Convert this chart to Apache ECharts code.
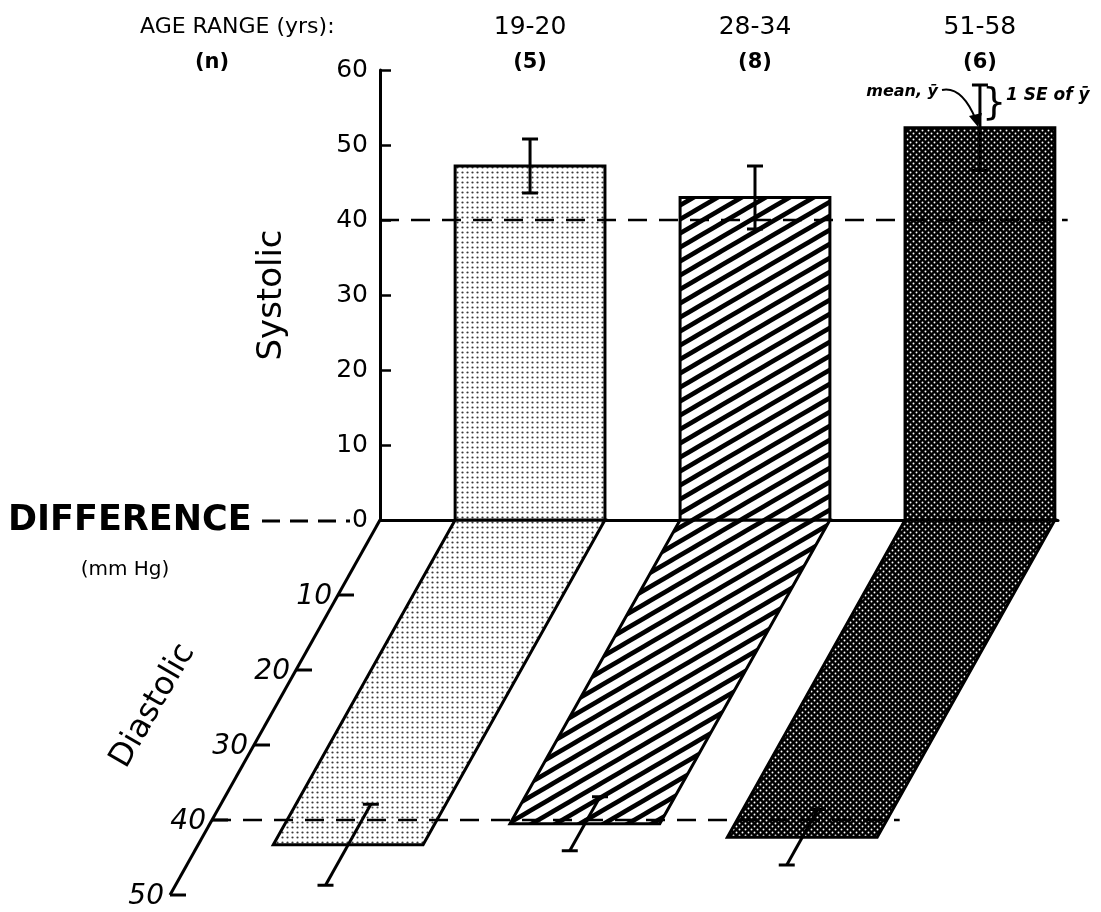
<!DOCTYPE html>
<html>
<head>
<meta charset="utf-8">
<title>Blood pressure difference by age range</title>
<script src="https://cdn.jsdelivr.net/npm/echarts@6/dist/echarts.min.js"></script>
<style>
  html, body { margin: 0; padding: 0; background: #fff; }
  #chart { width: 1101px; height: 912px; }
</style>
</head>
<body>
<div id="chart"></div>
<script>
// age groups and number of subjects
const ageRanges = ['19-20', '28-34', '51-58'];
const groupN = [5, 8, 6];

// systolic difference (mm Hg): mean and 1 SE
const systolicMean = [47.2, 43.0, 52.3];
const systolicSE = [3.6, 4.2, 5.7];

// diastolic difference (mm Hg): mean and 1 SE
const diastolicMean = [43.3, 40.5, 42.3];
const diastolicSE = [5.4, 3.6, 3.7];

const diastolicTicks = [0, 10, 20, 30, 40, 50];
const referenceLevel = [40];

const FONT = '"DejaVu Sans", "Liberation Sans", sans-serif';
const X_MIN = -0.667;
const X_MAX = 2.347;
const REF_END = 2.39;     // where the dashed 40 lines stop
const HALF = 0.333;       // half bar width in category units
const SLANT = 0.56;       // horizontal shift per px of depth for the diastolic plane
const CAP = 8;

// fill patterns
function makeTile(w, h, draw) {
  const c = document.createElement('canvas');
  c.width = w; c.height = h;
  draw(c.getContext('2d'), w, h);
  return { image: c, repeat: 'repeat' };
}
const lightDots = makeTile(5, 5, (ctx, w, h) => {
  ctx.fillStyle = '#fff'; ctx.fillRect(0, 0, w, h);
  ctx.fillStyle = '#3a3a3a';
  ctx.beginPath(); ctx.arc(2.5, 2.5, 1.1, 0, Math.PI * 2); ctx.fill();
});
const hatch = makeTile(24, 14, (ctx, w, h) => {
  ctx.fillStyle = '#fff'; ctx.fillRect(0, 0, w, h);
  ctx.strokeStyle = '#000'; ctx.lineWidth = 4.6;
  for (let k = -1; k <= 1; k++) {
    ctx.beginPath();
    ctx.moveTo(-2, h + k * h + 2 * h / w);
    ctx.lineTo(w + 2, k * h - 2 * h / w);
    ctx.stroke();
  }
});
const darkDots = makeTile(6, 6, (ctx, w, h) => {
  ctx.fillStyle = '#000'; ctx.fillRect(0, 0, w, h);
  ctx.fillStyle = '#fff';
  ctx.beginPath(); ctx.arc(1.5, 1.5, 0.95, 0, Math.PI * 2); ctx.fill();
  ctx.beginPath(); ctx.arc(4.5, 4.5, 0.95, 0, Math.PI * 2); ctx.fill();
});
const fills = [lightDots, hatch, darkDots];

// diastolic plane is drawn sheared to the lower left
function shear(api, x, y) {
  const p = api.coord([x, y]);
  const zero = api.coord([x, 0]);
  return [p[0] - (p[1] - zero[1]) * SLANT, p[1]];
}

function capLine(x, y) {
  return { type: 'line', shape: { x1: x - CAP, y1: y, x2: x + CAP, y2: y },
    style: { stroke: '#000', lineWidth: 3 } };
}

function renderSystolicBar(params, api) {
  const i = api.value(0);
  const p0 = api.coord([i - HALF, 0]);
  const p1 = api.coord([i + HALF, api.value(1)]);
  return {
    type: 'rect',
    shape: { x: p0[0], y: p1[1], width: p1[0] - p0[0], height: p0[1] - p1[1] },
    style: { fill: fills[params.dataIndex], stroke: '#000', lineWidth: 3 }
  };
}

function renderDiastolicBar(params, api) {
  const i = api.value(0);
  const m = api.value(1);
  const pts = [
    shear(api, i - HALF, 0), shear(api, i + HALF, 0),
    shear(api, i + HALF, m), shear(api, i - HALF, m)
  ];
  return {
    type: 'polygon',
    shape: { points: pts },
    style: { fill: fills[params.dataIndex], stroke: '#000', lineWidth: 3 }
  };
}

function renderSystolicError(params, api) {
  const i = api.value(0), m = api.value(1), se = api.value(2);
  const lo = api.coord([i, m - se]);
  const hi = api.coord([i, m + se]);
  return {
    type: 'group',
    children: [
      { type: 'line', shape: { x1: lo[0], y1: lo[1], x2: hi[0], y2: hi[1] },
        style: { stroke: '#000', lineWidth: 3 } },
      capLine(lo[0], lo[1]), capLine(hi[0], hi[1])
    ]
  };
}

function renderDiastolicError(params, api) {
  const i = api.value(0), m = api.value(1), se = api.value(2);
  const lo = shear(api, i, m - se);
  const hi = shear(api, i, m + se);
  return {
    type: 'group',
    children: [
      { type: 'line', shape: { x1: lo[0], y1: lo[1], x2: hi[0], y2: hi[1] },
        style: { stroke: '#000', lineWidth: 3 } },
      capLine(lo[0], lo[1]), capLine(hi[0], hi[1])
    ]
  };
}

function renderUpperRef(params, api) {
  const a = api.coord([X_MIN, api.value(0)]);
  const b = api.coord([REF_END, api.value(0)]);
  return { type: 'line', shape: { x1: a[0], y1: a[1], x2: b[0], y2: b[1] },
    style: { stroke: '#000', lineWidth: 2.5, lineDash: [19, 12] } };
}

function renderLowerRef(params, api) {
  const a = shear(api, X_MIN, api.value(0));
  const b = shear(api, REF_END, api.value(0));
  return { type: 'line', shape: { x1: a[0], y1: a[1], x2: b[0], y2: b[1] },
    style: { stroke: '#000', lineWidth: 2.5, lineDash: [19, 12] } };
}

function renderDiastolicAxis(params, api) {
  const v = api.value(0);
  const p = shear(api, X_MIN, v);
  if (v === 0) {
    const end = shear(api, X_MIN, diastolicTicks[diastolicTicks.length - 1]);
    return { type: 'line', shape: { x1: p[0], y1: p[1], x2: end[0], y2: end[1] },
      style: { stroke: '#000', lineWidth: 3 } };
  }
  return {
    type: 'group',
    children: [
      { type: 'line', shape: { x1: p[0], y1: p[1], x2: p[0] + 16, y2: p[1] },
        style: { stroke: '#000', lineWidth: 3 } },
      { type: 'text', style: { x: p[0] - 6, y: p[1] + 2, text: String(v),
        font: 'italic 28px ' + FONT, fill: '#000', textAlign: 'right', textVerticalAlign: 'middle' } }
    ]
  };
}

function renderHeader(params, api) {
  const i = api.value(0);
  const p = api.coord([i, 0]);
  return {
    type: 'group',
    children: [
      { type: 'text', style: { x: p[0], y: 27, text: ageRanges[params.dataIndex],
        font: '25px ' + FONT, fill: '#000', textAlign: 'center', textVerticalAlign: 'middle' } },
      { type: 'text', style: { x: p[0], y: 63, text: '(' + groupN[params.dataIndex] + ')',
        font: 'bold 21px ' + FONT, fill: '#000', textAlign: 'center', textVerticalAlign: 'middle' } }
    ]
  };
}

const idx = ageRanges.map((_, i) => i);

const chart = echarts.init(document.getElementById('chart'), null, { renderer: 'canvas' });
chart.setOption({
  animation: false,
  backgroundColor: '#fff',
  grid: [
    { left: 380, right: 1101 - 1058, top: 70, height: 450 },
    { left: 380, right: 1101 - 1058, top: 520, height: 375 }
  ],
  xAxis: [
    { gridIndex: 0, type: 'value', min: X_MIN, max: X_MAX,
      axisLine: { show: true, onZero: false, lineStyle: { color: '#000', width: 3 } },
      axisTick: { show: false }, axisLabel: { show: false }, splitLine: { show: false } },
    { gridIndex: 1, type: 'value', min: X_MIN, max: X_MAX, show: false, splitLine: { show: false } }
  ],
  yAxis: [
    { gridIndex: 0, type: 'value', min: 0, max: 60, interval: 10,
      axisLine: { show: true, onZero: false, lineStyle: { color: '#000', width: 3 } },
      axisTick: { show: true, inside: true, length: 11, lineStyle: { color: '#000', width: 2.5 } },
      axisLabel: { color: '#000', fontSize: 25, fontFamily: FONT, margin: 12 },
      splitLine: { show: false } },
    { gridIndex: 1, type: 'value', min: 0, max: 50, inverse: true, show: false,
      axisLine: { onZero: false }, splitLine: { show: false } }
  ],
  series: [
    { type: 'custom', name: 'header', xAxisIndex: 0, yAxisIndex: 0,
      renderItem: renderHeader, data: idx.map(i => [i]) },
    { type: 'custom', name: 'diastolic', xAxisIndex: 1, yAxisIndex: 1,
      renderItem: renderDiastolicBar, data: idx.map(i => [i, diastolicMean[i]]) },
    { type: 'custom', name: 'systolic', xAxisIndex: 0, yAxisIndex: 0,
      renderItem: renderSystolicBar, data: idx.map(i => [i, systolicMean[i]]) },
    { type: 'custom', name: 'diastolic axis', xAxisIndex: 1, yAxisIndex: 1,
      renderItem: renderDiastolicAxis, data: diastolicTicks.map(v => [v]) },
    { type: 'custom', name: 'ref upper', xAxisIndex: 0, yAxisIndex: 0, z: 5,
      renderItem: renderUpperRef, data: referenceLevel.map(v => [v]) },
    { type: 'custom', name: 'ref lower', xAxisIndex: 1, yAxisIndex: 1, z: 5,
      renderItem: renderLowerRef, data: referenceLevel.map(v => [v]) },
    { type: 'custom', name: 'systolic SE', xAxisIndex: 0, yAxisIndex: 0, z: 6,
      renderItem: renderSystolicError, data: idx.map(i => [i, systolicMean[i], systolicSE[i]]) },
    { type: 'custom', name: 'diastolic SE', xAxisIndex: 1, yAxisIndex: 1, z: 6,
      renderItem: renderDiastolicError, data: idx.map(i => [i, diastolicMean[i], diastolicSE[i]]) }
  ],
  graphic: [
    { type: 'text', style: { x: 140, y: 27, text: 'AGE RANGE (yrs):', font: '22px ' + FONT,
      fill: '#000', textAlign: 'left', textVerticalAlign: 'middle' } },
    { type: 'text', style: { x: 212, y: 63, text: '(n)', font: 'bold 21px ' + FONT,
      fill: '#000', textAlign: 'center', textVerticalAlign: 'middle' } },
    { type: 'text', x: 272, y: 295, rotation: Math.PI / 2,
      style: { x: 0, y: 0, text: 'Systolic', font: '34px ' + FONT, fill: '#000',
        textAlign: 'center', textVerticalAlign: 'middle' } },
    { type: 'text', style: { x: 8, y: 521, text: 'DIFFERENCE', font: 'bold 35px ' + FONT,
      fill: '#000', textAlign: 'left', textVerticalAlign: 'middle' } },
    { type: 'line', shape: { x1: 262, y1: 521, x2: 350, y2: 521 },
      style: { stroke: '#000', lineWidth: 3, lineDash: [18, 10] } },
    { type: 'text', style: { x: 125, y: 570, text: '(mm Hg)', font: '20px ' + FONT,
      fill: '#000', textAlign: 'center', textVerticalAlign: 'middle' } },
    { type: 'text', x: 153, y: 706, rotation: Math.PI / 3,
      style: { x: 0, y: 0, text: 'Diastolic', font: '32px ' + FONT, fill: '#000',
        textAlign: 'center', textVerticalAlign: 'middle' } },
    // key for the error bar
    { type: 'text', style: { x: 938, y: 92, text: 'mean, ȳ', font: 'italic bold 16px ' + FONT,
      fill: '#000', textAlign: 'right', textVerticalAlign: 'middle' } },
    { type: 'bezierCurve', shape: { x1: 942, y1: 90, cpx1: 962, cpy1: 86, x2: 976, y2: 120 },
      style: { stroke: '#000', lineWidth: 2, fill: null } },
    { type: 'polygon', shape: { points: [[978, 127], [969, 116], [982, 113]] },
      style: { fill: '#000' } },
    { type: 'text', style: { x: 994, y: 104, text: '}', font: '38px ' + FONT,
      fill: '#000', textAlign: 'center', textVerticalAlign: 'middle' } },
    { type: 'text', style: { x: 1006, y: 96, text: '1 SE of ȳ', font: 'italic bold 17px ' + FONT,
      fill: '#000', textAlign: 'left', textVerticalAlign: 'middle' } }
  ]
});
</script>
</body>
</html>
